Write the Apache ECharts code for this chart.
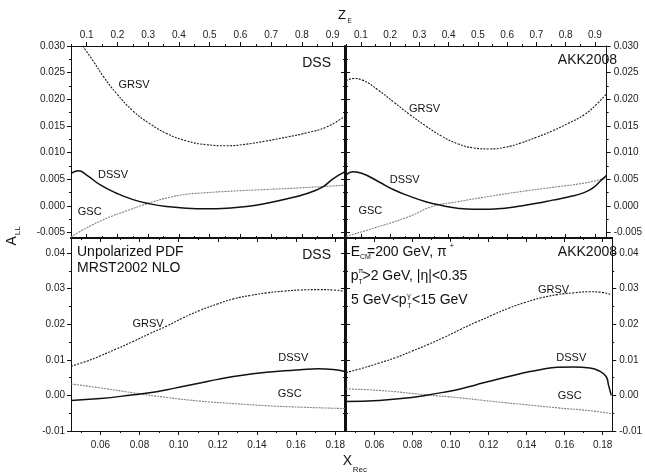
<!DOCTYPE html>
<html><head><meta charset="utf-8">
<script src="https://cdn.jsdelivr.net/npm/echarts@6/dist/echarts.min.js"></script>
<style>html,body{margin:0;padding:0;background:#fff}#c{width:645px;height:474px}</style>
</head><body><div id="c"></div>
<script>
// ---------- tick values ----------
const zETicks   = [0.1,0.2,0.3,0.4,0.5,0.6,0.7,0.8,0.9];
const zEMinor   = [0.05,0.15,0.25,0.35,0.45,0.55,0.65,0.75,0.85];
const xRecTicks = [0.06,0.08,0.10,0.12,0.14,0.16,0.18];
const xRecMinor = [0.05,0.07,0.09,0.11,0.13,0.15,0.17];
const yTopTicks = [-0.005,0,0.005,0.010,0.015,0.020,0.025,0.030];
const yTopMinor = [-0.0025,0.0025,0.0075,0.0125,0.0175,0.0225,0.0275];
const yBotTicks = [-0.01,0,0.01,0.02,0.03,0.04];
const yBotMinor = [-0.005,0.005,0.015,0.025,0.035];

// ---------- Top-left: DSS, x = Z_E ----------
const dssTopGRSV_z = [0.087,0.121,0.154,0.197,0.251,0.306,0.360,0.425,0.490,0.555,0.620,0.684,0.749,0.814,0.879,0.939];
const dssTopGRSV   = [0.0300,0.0272,0.0243,0.0211,0.0178,0.0154,0.0136,0.0122,0.0115,0.0113,0.0116,0.0122,0.0129,0.0137,0.0148,0.0168];
const dssTopDSSV_z = [0.049,0.073,0.100,0.143,0.197,0.251,0.306,0.360,0.425,0.490,0.555,0.620,0.684,0.749,0.814,0.868,0.901,0.939];
const dssTopDSSV   = [0.0061,0.0066,0.0058,0.0040,0.0024,0.0012,0.0004,-0.0001,-0.0004,-0.0005,-0.0004,-0.0001,0.0005,0.0013,0.0023,0.0036,0.0051,0.0064];
const dssTopGSC_z  = [0.049,0.100,0.165,0.230,0.295,0.360,0.425,0.490,0.576,0.684,0.793,0.939];
const dssTopGSC    = [-0.0058,-0.0041,-0.0023,-0.0009,0.0004,0.0015,0.0022,0.0025,0.0028,0.0031,0.0034,0.0039];

// ---------- Top-right: AKK2008, x = Z_E ----------
const akkTopGRSV_z = [0.049,0.075,0.105,0.160,0.214,0.268,0.322,0.376,0.430,0.484,0.538,0.592,0.646,0.701,0.755,0.809,0.863,0.906,0.939];
const akkTopGRSV   = [0.0235,0.0239,0.0236,0.0217,0.0194,0.0171,0.0150,0.0131,0.0117,0.0109,0.0107,0.0110,0.0118,0.0129,0.0141,0.0155,0.0171,0.0191,0.0210];
const akkTopDSSV_z = [0.049,0.073,0.105,0.159,0.214,0.268,0.322,0.376,0.430,0.484,0.538,0.592,0.646,0.701,0.755,0.809,0.863,0.896,0.917,0.939];
const akkTopDSSV   = [0.0058,0.0064,0.0061,0.0046,0.0030,0.0018,0.0008,0.0001,-0.0004,-0.0006,-0.0006,-0.0004,0.0000,0.0005,0.0011,0.0017,0.0025,0.0035,0.0046,0.0057];
const akkTopGSC_z  = [0.049,0.159,0.268,0.344,0.430,0.538,0.646,0.755,0.863,0.939];
const akkTopGSC    = [-0.0057,-0.0039,-0.0019,-0.0001,0.0008,0.0018,0.0027,0.0035,0.0043,0.0052];

// ---------- Bottom-left: DSS, x = X_Rec ----------
const dssBotGRSV_x = [0.045,0.053,0.060,0.068,0.077,0.085,0.094,0.102,0.111,0.120,0.128,0.137,0.145,0.154,0.162,0.172,0.179,0.185];
const dssBotGRSV   = [0.0082,0.0096,0.0111,0.0130,0.0152,0.0173,0.0195,0.0217,0.0239,0.0257,0.0271,0.0281,0.0288,0.0293,0.0296,0.0297,0.0296,0.0292];
const dssBotDSSV_x = [0.045,0.060,0.077,0.086,0.094,0.102,0.111,0.120,0.128,0.137,0.145,0.154,0.162,0.171,0.179,0.185];
const dssBotDSSV   = [-0.0014,-0.0009,0.0002,0.0008,0.0016,0.0025,0.0035,0.0045,0.0053,0.0060,0.0065,0.0069,0.0072,0.0075,0.0073,0.0067];
const dssBotGSC_x  = [0.045,0.060,0.077,0.094,0.111,0.128,0.145,0.162,0.185];
const dssBotGSC    = [0.0032,0.0021,0.0007,-0.0006,-0.0016,-0.0023,-0.0029,-0.0033,-0.0037];

// ---------- Bottom-right: AKK2008, x = X_Rec ----------
const akkBotGRSV_x = [0.045,0.054,0.0625,0.0711,0.0795,0.0881,0.0966,0.1051,0.1136,0.1222,0.1306,0.1392,0.1477,0.1562,0.1647,0.1733,0.1784,0.1845];
const akkBotGRSV   = [0.0064,0.0077,0.0091,0.0106,0.0124,0.0143,0.0163,0.0185,0.0206,0.0226,0.0245,0.0261,0.0274,0.0283,0.0288,0.0291,0.0290,0.0283];
const akkBotDSSV_x = [0.045,0.0625,0.0795,0.0881,0.0966,0.1051,0.1136,0.1222,0.1306,0.1392,0.1477,0.1562,0.1647,0.1733,0.1784,0.1818,0.1831,0.1845];
const akkBotDSSV   = [-0.0017,-0.0014,-0.0006,0.0001,0.0009,0.0018,0.0030,0.0042,0.0053,0.0064,0.0073,0.0079,0.0080,0.0077,0.0068,0.0053,0.0028,0.0000];
const akkBotGSC_x  = [0.045,0.0625,0.0864,0.1051,0.1222,0.1392,0.1562,0.1733,0.1845];
const akkBotGSC    = [0.0018,0.0014,0.0002,-0.0007,-0.0017,-0.0026,-0.0035,-0.0043,-0.0051];

// ---------- layout ----------
const FONT = '"Liberation Sans", Arial, sans-serif';
const INK = '#111';
const grids = [
  {left:71,  top:46,  width:274, height:192},
  {left:346, top:46,  width:274, height:192},
  {left:71,  top:238, width:274, height:193},
  {left:346, top:238, width:274, height:193},
  {left:71,  top:40,  width:274, height:392}   // carrier for the shared A_LL title
];
const fz = v => v.toFixed(1), f3 = v => v.toFixed(3), f2 = v => v.toFixed(2);
const panels = [
  {xr:[0.049,0.94],  yr:[-0.006,0.030], xSide:'top',    ySide:'left',  xT:zETicks,   xM:zEMinor,   yT:yTopTicks, yM:yTopMinor, xf:fz, yf:f3, thickX:'bottom', thickY:'right',
   series:[[dssTopGRSV_z,dssTopGRSV,'GRSV'],[dssTopDSSV_z,dssTopDSSV,'DSSV'],[dssTopGSC_z,dssTopGSC,'GSC']]},
  {xr:[0.049,0.94],  yr:[-0.006,0.030], xSide:'top',    ySide:'right', xT:zETicks,   xM:zEMinor,   yT:yTopTicks, yM:yTopMinor, xf:fz, yf:f3, thickX:'bottom', thickY:'left',
   series:[[akkTopGRSV_z,akkTopGRSV,'GRSV'],[akkTopDSSV_z,akkTopDSSV,'DSSV'],[akkTopGSC_z,akkTopGSC,'GSC']]},
  {xr:[0.045,0.185], yr:[-0.01,0.0442], xSide:'bottom', ySide:'left',  xT:xRecTicks, xM:xRecMinor, yT:yBotTicks, yM:yBotMinor, xf:f2, yf:f2, thickX:'top', thickY:'right',
   series:[[dssBotGRSV_x,dssBotGRSV,'GRSV'],[dssBotDSSV_x,dssBotDSSV,'DSSV'],[dssBotGSC_x,dssBotGSC,'GSC']]},
  {xr:[0.045,0.185], yr:[-0.01,0.0442], xSide:'bottom', ySide:'right', xT:xRecTicks, xM:xRecMinor, yT:yBotTicks, yM:yBotMinor, xf:f2, yf:f2, thickX:'top', thickY:'left',
   series:[[akkBotGRSV_x,akkBotGRSV,'GRSV'],[akkBotDSSV_x,akkBotDSSV,'DSSV'],[akkBotGSC_x,akkBotGSC,'GSC']]}
];
const opp = {top:'bottom', bottom:'top', left:'right', right:'left'};

function axis(g, pos, range, vals, o) {
  return {
    type:'value', gridIndex:g, position:pos, min:range[0], max:range[1],
    axisLine:{show:o.line!==false, onZero:false, lineStyle:{color:INK, width:o.lw||1}},
    axisTick:{show:true, customValues:vals, inside:!!o.inside, length:o.len, lineStyle:{color:INK, width:1}},
    axisLabel:{show:!!o.fmt, customValues:vals, formatter:o.fmt, margin:o.margin||5, color:'#222', fontSize:10, fontFamily:FONT},
    splitLine:{show:false}, minorTick:{show:false}, splitArea:{show:false}
  };
}

const xAxes = [], yAxes = [], series = [];
const styles = {
  GRSV:{color:'#1a1a1a', width:1.1, type:[2,1.3]},
  DSSV:{color:'#111', width:1.5, type:'solid'},
  GSC: {color:'#808080', width:1.1, type:[2,1]}
};
panels.forEach((p, g) => {
  const xi = xAxes.length, yi = yAxes.length;
  const xMargin = p.xSide === 'top' ? 6 : 9;
  const yMargin = p.ySide === 'left' ? 6 : 7;
  xAxes.push(axis(g, p.xSide, p.xr, p.xT, {len:4, fmt:p.xf, margin:xMargin}));
  xAxes.push(axis(g, p.xSide, p.xr, p.xM, {len:2, line:false}));
  xAxes.push(axis(g, opp[p.xSide], p.xr, p.xT, {len:4, inside:true, lw:p.thickX===opp[p.xSide]?2:1}));
  xAxes.push(axis(g, opp[p.xSide], p.xr, p.xM, {len:2, inside:true, line:false}));
  yAxes.push(axis(g, p.ySide, p.yr, p.yT, {len:4, fmt:p.yf, margin:yMargin}));
  yAxes.push(axis(g, p.ySide, p.yr, p.yM, {len:2, line:false}));
  yAxes.push(axis(g, opp[p.ySide], p.yr, p.yT, {len:4, inside:true, lw:p.thickY===opp[p.ySide]?2:1}));
  yAxes.push(axis(g, opp[p.ySide], p.yr, p.yM, {len:2, inside:true, line:false}));
  p.series.forEach(([xs, ys, name]) => {
    series.push({
      type:'line', name, xAxisIndex:xi, yAxisIndex:yi,
      data: xs.map((x, i) => [x, ys[i]]),
      showSymbol:false, symbol:'none', smooth:0.5, clip:true,
      lineStyle: styles[name], z: name === 'DSSV' ? 4 : 3, silent:true
    });
  });
});
// invisible axes on grid 4, only to carry the rotated A_LL title
xAxes.push({type:'value', gridIndex:4, show:false, min:0, max:1});
yAxes.push({type:'value', gridIndex:4, position:'left', min:0, max:1,
  axisLine:{show:false, onZero:false}, axisTick:{show:false}, axisLabel:{show:false}, splitLine:{show:false},
  name:'{a|A}{b|LL}', nameLocation:'middle', nameRotate:90, nameGap:52,
  nameTextStyle:{color:INK, fontFamily:FONT, rich:{
    a:{fontSize:14, fontFamily:FONT, color:INK, lineHeight:16, verticalAlign:'bottom'},
    b:{fontSize:8, fontFamily:FONT, color:INK, lineHeight:10, verticalAlign:'bottom', padding:[0,0,-3,1]}
  }}
});

function T(text, x, y, size, align) {
  return {type:'text', x, y, silent:true,
    style:{text, fill:INK, font: size + 'px ' + FONT, textAlign:align || 'left', textVerticalAlign:'middle'}};
}
const graphics = [
  // axis titles
  T('Z', 342, 15, 13, 'center'), T('E', 347.5, 21, 6.5, 'left'),
  T('X', 347.5, 461.5, 14, 'center'), T('Rec', 352.7, 469.5, 8, 'left'),
  // panel titles
  T('DSS', 331, 63, 14, 'right'), T('AKK2008', 617, 60, 14, 'right'),
  T('DSS', 331, 255, 14, 'right'), T('AKK2008', 617, 252.5, 14, 'right'),
  T('Unpolarized PDF', 77, 252, 14, 'left'), T('MRST2002 NLO', 77, 268, 14, 'left'),
  // conditions (bottom right)
  T('E', 350.7, 252.5, 14, 'left'), T('CM', 360, 257, 7, 'left'), T('=200 GeV, \u03c0', 367, 252.5, 14, 'left'), T('+', 449.5, 246, 8, 'left'),
  T('p', 350.7, 276, 14, 'left'), T('\u03c0', 358.6, 271, 7, 'left'), T('T', 358.6, 282, 7, 'left'), T('>2 GeV, |\u03b7|<0.35', 362.5, 276, 14, 'left'),
  T('5 GeV<p', 351, 300.5, 14, 'left'), T('\u03b3', 407.3, 296, 7, 'left'), T('T', 407.3, 306, 7, 'left'), T('<15 GeV', 412, 300.5, 14, 'left'),
  // curve labels
  T('GRSV', 134, 85, 11, 'center'), T('DSSV', 113, 175, 11, 'center'), T('GSC', 89.7, 212, 11, 'center'),
  T('GRSV', 424.5, 109, 11, 'center'), T('DSSV', 404.7, 179.5, 11, 'center'), T('GSC', 370.3, 211, 11, 'center'),
  T('GRSV', 148, 323.7, 11, 'center'), T('DSSV', 293.3, 358.3, 11, 'center'), T('GSC', 289.7, 394.2, 11, 'center'),
  T('GRSV', 553.5, 289.5, 11, 'center'), T('DSSV', 571.3, 358.3, 11, 'center'), T('GSC', 569.7, 395.8, 11, 'center')
];

const chart = echarts.init(document.getElementById('c'), null, {renderer:'canvas'});
chart.setOption({
  animation:false, backgroundColor:'#fff',
  grid: grids.map(g => Object.assign({show:false, containLabel:false}, g)),
  xAxis: xAxes, yAxis: yAxes, series, graphic: graphics
});
</script></body></html>
